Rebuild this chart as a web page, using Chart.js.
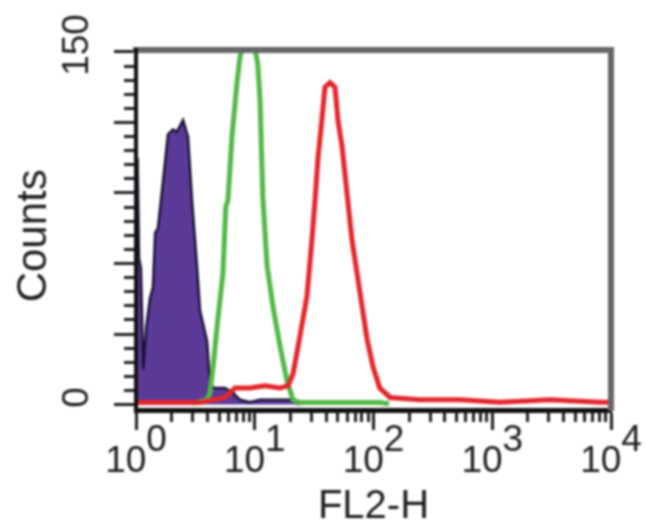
<!DOCTYPE html>
<html>
<head>
<meta charset="utf-8">
<script src="https://cdn.jsdelivr.net/npm/chart.js@4.4.1/dist/chart.umd.min.js"></script>
<style>
  html, body { margin: 0; padding: 0; background: #ffffff; }
  canvas { display: block; filter: blur(0.9px); }
</style>
</head>
<body>
<canvas id="c" width="646" height="530"></canvas>
<script>
// ---- data (FL2-H channel value, counts) ----
const isotypeFL2 = [1.0, 1.03, 1.06, 1.10, 1.15, 1.22, 1.31, 1.39, 1.45, 1.53, 1.69, 1.86, 2.05, 2.21, 2.49, 2.74, 2.96, 3.26, 3.46, 3.96, 4.20, 4.54, 5.61, 6.56, 7.51, 9.12, 11.1, 19.8, 24.0];
const isotypeCounts = [60, 105, 62, 58, 15, 33, 45, 50, 73, 75, 95, 115, 117, 116, 121, 114, 87, 59, 40, 27, 9, 7, 7, 5, 2, 1, 2, 2, 0];

const controlFL2 = [3.0, 3.96, 4.20, 4.50, 4.81, 5.40, 5.70, 5.95, 6.43, 7.09, 7.51, 8.28, 9.48, 10.6, 11.07, 11.7, 12.7, 14.2, 16.3, 18.7, 21.0, 24.0, 60, 113, 135];
const controlCounts = [0.5, 2, 5, 18, 33, 56, 84, 87, 114, 137, 148, 156, 158, 145, 130, 88, 59, 42, 25, 10, 2, 0.8, 0.8, 0.8, 0.3];

const sampleFL2 = [1.0, 3.46, 5.61, 6.82, 9.12, 12.2, 16.3, 19.1, 21.0, 24.0, 27.5, 30.3, 32.2, 34.1, 36.9, 39.0, 43.0, 47.4, 50.2, 54.3, 59.8, 65.9, 72.6, 80.0, 88.2, 99.1, 113, 138, 245, 535, 1162, 3063, 8080, 10000];
const sampleCounts = [0.8, 0.8, 3, 7, 7, 8, 7, 8, 13, 29, 46, 70, 87, 105, 122, 135, 137, 135, 121, 110, 90, 70, 56, 42, 28, 16, 7, 3, 2, 2, 1, 2, 1, 1];

// ---- ticks ----
const xMajorTicks = [1, 10, 100, 1000, 10000];
const xTickExponents = ['0', '1', '2', '3', '4'];
const xMinorTicks = [2,3,4,5,6,7,8,9, 20,30,40,50,60,70,80,90, 200,300,400,500,600,700,800,900, 2000,3000,4000,5000,6000,7000,8000,9000];
const yMajorTicks = [0, 30, 60, 90, 120, 150];
const yTickLabels = ['0', '', '', '', '', '150'];
const yMinorTicks = [6,12,18,24, 36,42,48,54, 66,72,78,84, 96,102,108,114, 126,132,138,144];

const Y_MIN = -2.34, Y_MAX = 150.85;
const FONT = '"Liberation Sans", Arial, Helvetica, sans-serif';
const toPts = (xs, ys) => xs.map((x, i) => ({ x: x, y: ys[i] }));

new Chart(document.getElementById('c'), {
  type: 'line',
  data: {
    datasets: [
      { label: 'sample', data: toPts(sampleFL2, sampleCounts), borderColor: '#e3262b', borderWidth: 5, pointRadius: 0, tension: 0, fill: false, xAxisID: 'x', yAxisID: 'y', order: 0 },
      { label: 'control', data: toPts(controlFL2, controlCounts), borderColor: '#52b847', borderWidth: 5, pointRadius: 0, tension: 0, fill: false, xAxisID: 'x', yAxisID: 'y', order: 1 },
      { label: 'isotype', data: toPts(isotypeFL2, isotypeCounts), borderColor: '#1c1238', backgroundColor: '#5b3a98', borderWidth: 2.5, pointRadius: 0, tension: 0, fill: 'origin', xAxisID: 'x', yAxisID: 'y', order: 2 }
    ]
  },
  options: {
    responsive: false,
    devicePixelRatio: 1,
    animation: false,
    layout: { padding: { top: 50, right: 35, left: 0, bottom: 0 } },
    plugins: { legend: { display: false }, tooltip: { enabled: false } },
    font: { family: FONT },
    scales: {
      x: {
        type: 'logarithmic', position: 'bottom', min: 1, max: 10000, weight: 1,
        afterBuildTicks: s => { s.ticks = xMajorTicks.map(v => ({ value: v })); },
        afterFit: s => { s.height = 120; },
        ticks: {
          autoSkip: false, minRotation: 0, maxRotation: 0, padding: 0, color: '#1e1e1e',
          font: { family: FONT, size: 37, lineHeight: 0.57 },
          callback: (v, i) => ['    ' + xTickExponents[i], '10  ']
        },
        grid: { drawOnChartArea: false, drawTicks: true, tickLength: 20, tickWidth: 3, tickColor: '#222' },
        border: { display: true, color: '#111', width: 5, z: 1 },
        title: { display: true, text: 'FL2-H', color: '#1e1e1e', font: { family: FONT, size: 40, lineHeight: 1 }, padding: { top: 0, bottom: 3 } }
      },
      xm: {
        type: 'logarithmic', position: 'bottom', min: 1, max: 10000, weight: 0,
        afterBuildTicks: s => { s.ticks = xMinorTicks.map(v => ({ value: v })); },
        afterFit: s => { s.height = 0; },
        ticks: { display: false, autoSkip: false },
        grid: { drawOnChartArea: false, drawTicks: true, tickLength: 12, tickWidth: 3, tickColor: '#222' },
        border: { display: false }
      },
      xt: {
        type: 'logarithmic', position: 'top', min: 1, max: 10000,
        afterFit: s => { s.height = 0; },
        ticks: { display: false },
        grid: { drawOnChartArea: false, drawTicks: false },
        border: { display: true, color: '#666', width: 6, z: 1 }
      },
      y: {
        type: 'linear', position: 'left', min: Y_MIN, max: Y_MAX, weight: 1,
        afterBuildTicks: s => { s.ticks = yMajorTicks.map(v => ({ value: v })); },
        afterFit: s => { s.width = 136; },
        ticks: {
          autoSkip: false, minRotation: 90, maxRotation: 90, crossAlign: 'center', padding: 5, labelOffset: -7, color: '#1e1e1e',
          font: { family: FONT, size: 37, lineHeight: 1.2 },
          callback: (v) => { const k = yMajorTicks.indexOf(v); return k >= 0 ? yTickLabels[k] : ''; }
        },
        grid: { drawOnChartArea: false, drawTicks: true, tickLength: 22, tickWidth: 3, tickColor: '#222' },
        border: { display: true, color: '#111', width: 4, z: 1 },
        title: { display: true, text: 'Counts ', color: '#1e1e1e', font: { family: FONT, size: 42, lineHeight: 1 }, padding: { top: 13, bottom: 0 } }
      },
      ym: {
        type: 'linear', position: 'left', min: Y_MIN, max: Y_MAX, weight: 0,
        afterBuildTicks: s => { s.ticks = yMinorTicks.map(v => ({ value: v })); },
        afterFit: s => { s.width = 0; },
        ticks: { display: false, autoSkip: false },
        grid: { drawOnChartArea: false, drawTicks: true, tickLength: 12, tickWidth: 3, tickColor: '#222' },
        border: { display: false }
      },
      yr: {
        type: 'linear', position: 'right', min: Y_MIN, max: Y_MAX,
        afterFit: s => { s.width = 0; },
        ticks: { display: false },
        grid: { drawOnChartArea: false, drawTicks: false },
        border: { display: true, color: '#666', width: 6, z: 1 }
      }
    }
  }
});
</script>
</body>
</html>
